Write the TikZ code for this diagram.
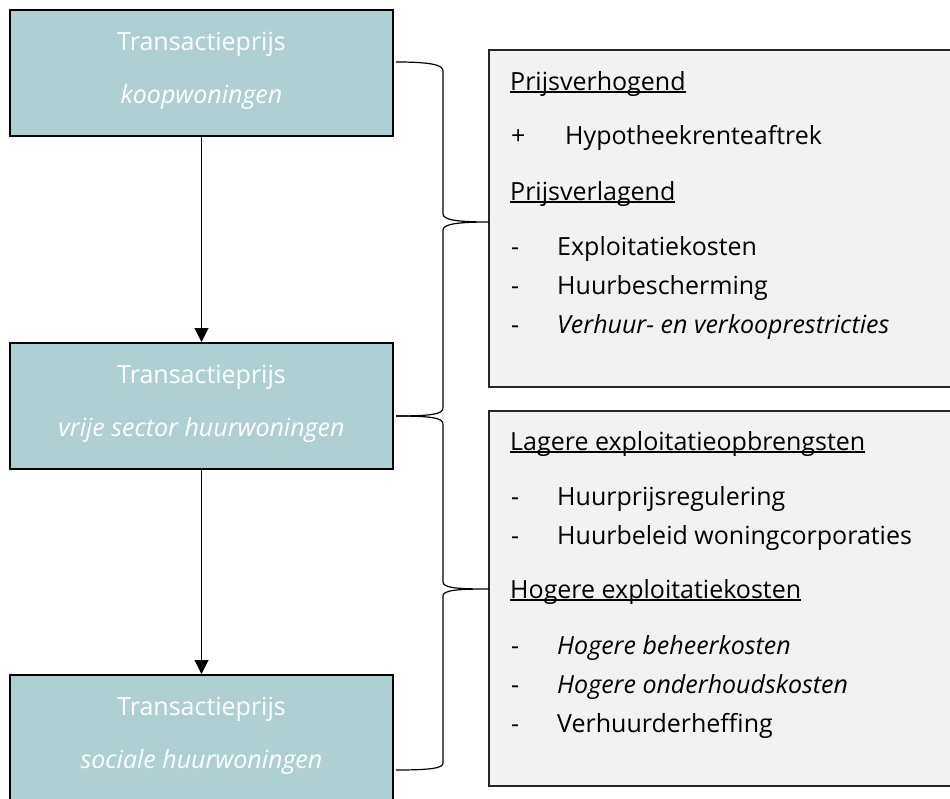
\documentclass[tikz,border=0pt]{standalone}
\usepackage{fontspec}
\setmainfont{Open Sans}
\usetikzlibrary{arrows.meta}
\definecolor{tealvak}{RGB}{174,208,210}
\definecolor{grijsvak}{RGB}{242,242,242}
\def\ondl#1{\setbox0\hbox{#1}\rlap{\rule[-2.8pt]{\wd0}{1.5pt}}\box0}

\begin{document}
\begin{tikzpicture}[x=1pt,y=-1pt,
    prijsbox/.style={draw=black,line width=2pt,fill=tealvak,minimum width=383pt,minimum height=126pt,inner sep=0pt},
    infobox/.style={draw=black!85,line width=1.6pt,fill=grijsvak},
    wit/.style={text=white,font=\fontsize{25}{30}\selectfont,anchor=base,inner sep=0pt},
    regel/.style={font=\fontsize{25}{30}\selectfont,anchor=base west,inner sep=0pt},
    pijl/.style={-{Triangle[width=14pt,length=14pt]},line width=1pt},
    haak/.style={line width=1.2pt}]
      \useasboundingbox (0,0) rectangle (950,798);
      \clip (0,0) rectangle (950,798);
      %vakken rechts
      \draw[infobox] (489,50) rectangle (960,387);
      \draw[infobox] (489,411) rectangle (960,786);
      \coordinate (PA) at (489,222);
      \coordinate (PB) at (489,589);
      %vakken links
      \node[prijsbox] (K) at (201.5,73) {};
      \node[prijsbox] (V) at (201.5,406) {};
      \node[prijsbox] (S) at (201.5,738) {};
      \node[wit] (K1) at (201.5,50) {Transactieprijs};
      \node[wit] (K2) at (201.5,103) {\itshape koopwoningen};
      \node[wit] (V1) at (201.5,383) {Transactieprijs};
      \node[wit] (V2) at (201.5,436) {\itshape vrije sector huurwoningen};
      \node[wit] (S1) at (201.5,715) {Transactieprijs};
      \node[wit] (S2) at (201.5,768) {\itshape sociale huurwoningen};
      %pijlen
      \draw[pijl] (K.south) -- (V.north);
      \draw[pijl] (V.south) -- (S.north);
      %accolades
      \coordinate (A0) at (396,62); \coordinate (M) at (396,416); \coordinate (B0) at (396,770);
      \draw[haak] (A0) .. controls (432,62) and (443,65) .. (443,71)
        -- (443,214) .. controls (443,220) and (458,222) .. (PA)
        (PA) .. controls (458,222) and (443,224) .. (443,230)
        -- (443,408) .. controls (443,414) and (432,416) .. (M);
      \draw[haak] (M) .. controls (432,416) and (443,418) .. (443,424)
        -- (443,582) .. controls (443,588) and (458,589) .. (PB)
        (PB) .. controls (458,589) and (443,590) .. (443,596)
        -- (443,763) .. controls (443,768) and (432,770) .. (B0);
      %teksten boven
      \node[regel] (T1) at (510,90) {\ondl{Prijsverhogend}};
      \node[regel] (T2) at (511,144) {+};
      \node[regel] (T3) at (565,144) {Hypotheekrenteaftrek};
      \node[regel] (T4) at (510,200) {\ondl{Prijsverlagend}};
      \node[regel] (T5) at (511,255) {-};
      \node[regel] (T6) at (557,255) {Exploitatiekosten};
      \node[regel] (T7) at (511,294) {-};
      \node[regel] (T8) at (557,294) {Huurbescherming};
      \node[regel] (T9) at (511,333) {-};
      \node[regel] (T10) at (557,333) {\itshape Verhuur- en verkooprestricties};
      %teksten onder
      \node[regel] (U1) at (510,450) {\ondl{Lagere exploitatieopbrengsten}};
      \node[regel] (U2) at (511,505) {-};
      \node[regel] (U3) at (557,505) {Huurprijsregulering};
      \node[regel] (U4) at (511,544) {-};
      \node[regel] (U5) at (557,544) {Huurbeleid woningcorporaties};
      \node[regel] (U6) at (510,598) {\ondl{Hogere exploitatiekosten}};
      \node[regel] (U7) at (511,654) {-};
      \node[regel] (U8) at (557,654) {\itshape Hogere beheerkosten};
      \node[regel] (U9) at (511,693) {-};
      \node[regel] (U10) at (557,693) {\itshape Hogere onderhoudskosten};
      \node[regel] (U11) at (511,732) {-};
      \node[regel] (U12) at (557,732) {Verhuurderheffing};
\end{tikzpicture}
\end{document}
